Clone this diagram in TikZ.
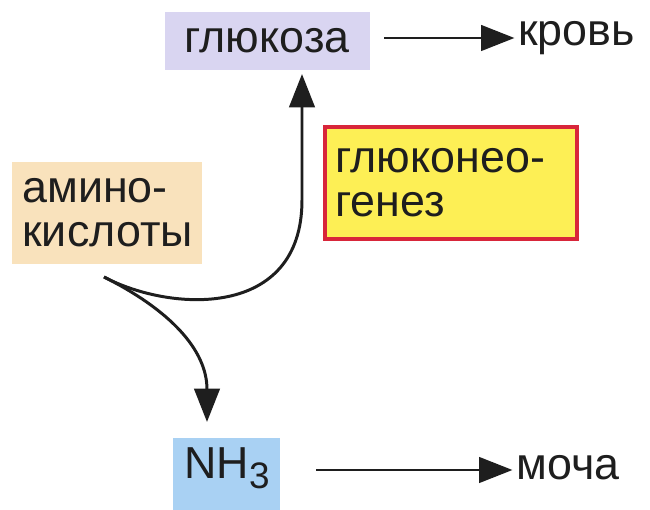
\documentclass[tikz,border=0pt]{standalone}
\usepackage{fontspec}
\setmainfont{Liberation Sans}
\usetikzlibrary{arrows.meta}
\definecolor{glucfill}{HTML}{D9D5F1}
\definecolor{aminofill}{HTML}{F9E2BC}
\definecolor{nhfill}{HTML}{A9D1F3}
\definecolor{genfill}{HTML}{FDEF55}
\definecolor{genline}{HTML}{D8263A}
\definecolor{ink}{HTML}{1E1E1E}
\tikzset{
  x=0.02cm, y=-0.02cm,
  lbl/.style={font=\fontsize{25.5}{27}\selectfont, text=ink, inner sep=0pt},
  flow/.style={line width=1.7pt, draw=ink, -{Triangle[length=19pt,width=14.5pt]}},
}
\begin{document}
\begin{tikzpicture}
\useasboundingbox (0,0) rectangle (650,510);

% boxes
\fill[glucfill] (165,12) rectangle (370,70);
\node[lbl] (gluc) at (267,41) {глюкоза};
\coordinate (glucB) at (298,74);
\coordinate (glucR) at (384,38);

\fill[aminofill] (12,162) rectangle (202,264);
\node[lbl, align=left, anchor=west] (amino) at (22,213) {амино-\\[-2pt]кислоты};
\coordinate (split) at (104,277);

\filldraw[fill=genfill, draw=genline, line width=2.5pt] (325,127) rectangle (577,239);
\node[lbl, align=left, anchor=west] (gen) at (335,183) {глюконео-\\[-2pt]генез};

\fill[nhfill] (173,438) rectangle (280,510);
\node[lbl] (nh) at (227,468) {NH\raisebox{-0.22em}{\fontsize{21}{21}\selectfont 3}};
\coordinate (nhT) at (207,422);
\coordinate (nhR) at (316,470);

\node[lbl, anchor=west] (blood) at (518,38) {кровь};
\node[lbl, anchor=west] (urine) at (516,468) {моча};

% connectors
\draw[flow] (glucR) -- ([xshift=-2pt]blood.west);
\draw[flow] (nhR) -- ([xshift=-2pt]urine.west |- nhR);
\draw[flow] (split) .. controls (170,312) and (302,320) .. (302,200) -- (glucB -| 302,0);
\draw[flow] (split) .. controls (170,310) and (207,350) .. (nhT);
\end{tikzpicture}
\end{document}
